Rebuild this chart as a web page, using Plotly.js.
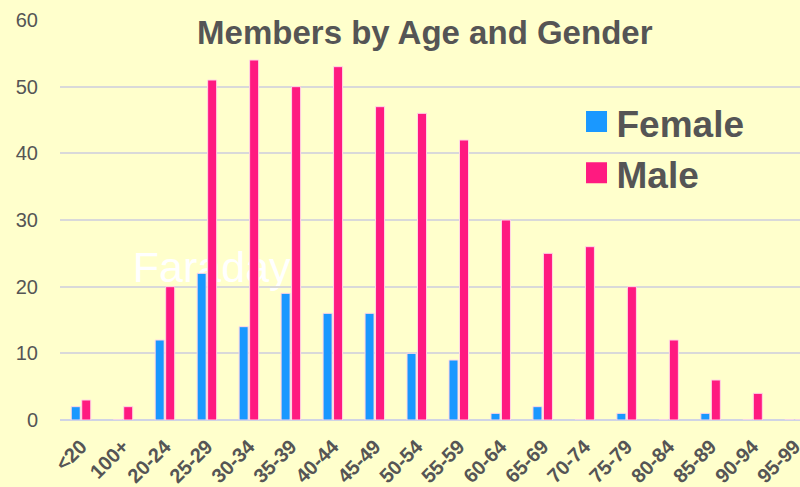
<!DOCTYPE html>
<html>
<head>
<meta charset="utf-8">
<script src="https://cdn.plot.ly/plotly-3.0.1.min.js"></script>
<style>html,body{margin:0;padding:0;background:#ffffcc;}#chart{width:800px;height:487px;}</style>
</head>
<body>
<div id="chart"></div>
<script>
var categories = ["<20","100+","20-24","25-29","30-34","35-39","40-44","45-49","50-54","55-59","60-64","65-69","70-74","75-79","80-84","85-89","90-94","95-99"];
var female = [2,0,12,22,14,19,16,16,10,9,1,2,0,1,0,1,0,0];
var male = [3,2,20,51,54,50,53,47,46,42,30,25,26,20,12,6,4,0];
var yTicks = [0,10,20,30,40,50,60];

var font = "Liberation Sans, Arial, sans-serif";
var traces = [
  {type:"bar", name:"<b>Female</b>", x:categories, y:female,
   marker:{color:"#1a98ff", line:{color:"#ffd6e6", width:1}}},
  {type:"bar", name:"<b>Male</b>", x:categories, y:male,
   marker:{color:"#ff1a80", line:{color:"#ffd6e6", width:1}}}
];
var layout = {
  width:800, height:487,
  paper_bgcolor:"#ffffcc", plot_bgcolor:"rgba(0,0,0,0)",
  margin:{l:60, r:0, t:20, b:67},
  barmode:"group", bargap:0.5, bargroupgap:0.14,
  title:{text:"<b>Members by Age and Gender</b>", font:{family:font, size:33, color:"#555555"},
         x:0.531, xref:"container", y:0.933, yref:"container", xanchor:"center", yanchor:"middle"},
  xaxis:{type:"category", range:[-0.5,17.13], tickangle:-45, automargin:false, ticklabelstandoff:10,
         tickfont:{family:font, size:20, color:"#555555", weight:"bold"},
         showgrid:false, ticks:"", showline:false, zeroline:false},
  yaxis:{range:[0,60], tickvals:yTicks, automargin:false, ticklabelstandoff:21,
         tickfont:{family:font, size:20, color:"#555555"},
         gridcolor:"#d9d9d9", gridwidth:2, zeroline:true, zerolinecolor:"#d0d4e4", zerolinewidth:2,
         showline:false, ticks:""},
  legend:{x:0.698, y:0.82, xanchor:"left", yanchor:"top", bgcolor:"rgba(0,0,0,0)",
          font:{family:font, size:37, color:"#555555"}, tracegroupgap:0},
  shapes:[{type:"rect", xref:"paper", yref:"paper", x0:0.08, x1:0.33, y0:0.33, y1:0.455,
           layer:"below", line:{width:0}, fillcolor:"rgba(0,0,0,0)",
           label:{text:"Faraday", textposition:"middle center",
                  font:{family:font, size:43, color:"#ffffff"}}}]
};
function enlargeLegendSymbols() {
  document.querySelectorAll("#chart .legendpoints path").forEach(function (p) {
    p.setAttribute("d", "M10.5,9.5H-10.5V-11.5H10.5Z");
    p.style.strokeWidth = "0";
  });
}
Plotly.newPlot("chart", traces, layout, {displayModeBar:false, staticPlot:true}).then(enlargeLegendSymbols);
</script>
</body>
</html>
